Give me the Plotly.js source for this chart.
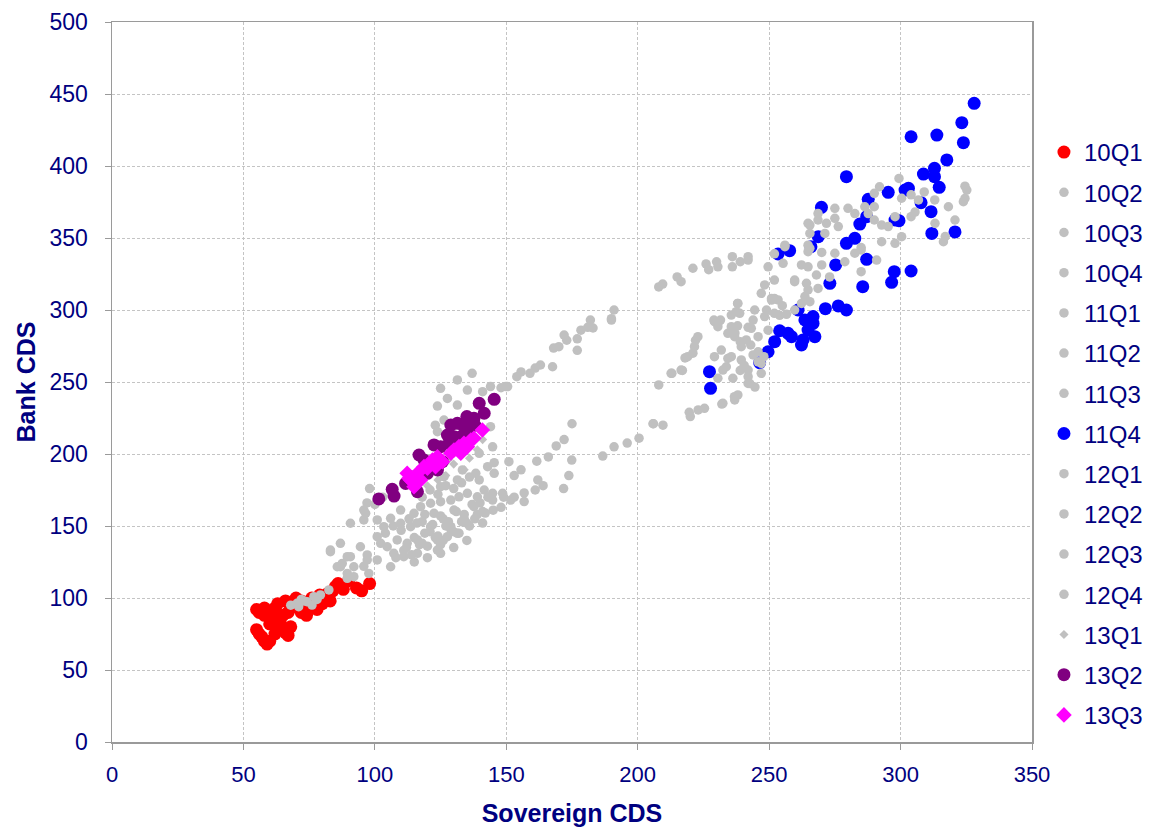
<!DOCTYPE html>
<html>
<head>
<meta charset="utf-8">
<script src="https://cdn.plot.ly/plotly-3.0.1.min.js"></script>
<style>html,body{margin:0;padding:0;background:#fff;}#chart{width:1152px;height:833px;}</style>
</head>
<body>
<div id="chart"></div>
<script>
// ---- data ----
const quarters = ["10Q1","10Q2","10Q3","10Q4","11Q1","11Q2","11Q3","11Q4","12Q1","12Q2","12Q3","12Q4","13Q1","13Q2","13Q3"];

const x10Q1 = [55,56,58,60,62,55,56,57,58,59,60,62,63,64,65,66,67,68,62,65,67,68,70,72,74,75,76,78,80,82,84,85,86,88,83,80,78,72,70,66,93,95,98,90,60,63,58,76,79];
const y10Q1 = [92,90,88,91,93,78,75,73,70,68,70,75,80,83,78,76,74,80,85,88,90,93,95,90,88,92,95,97,100,103,105,108,110,106,98,96,92,98,100,98,107,105,110,112,82,96,93,100,102];

const x10Q2 = [68,70.4,74.2,76.8,79.3,82.5,76.1,72,89.5,92,86.9,83.1,89.5,97.1,100.9,106,95.8,71,73,78];
const y10Q2 = [95,96.3,97.4,100.9,102.1,105.6,95.1,99,113.7,114.8,121.7,132.2,128.7,129.9,126.4,121.7,122,94,98,99];

const x10Q3 = [86.9,83.1,90.7,87.6,85.7,92,97.1,97.7,89.5,94.5,95.8,90.7,96.5,100.9,103.4,100.9,95.8,97,102.2,104.7,107.2,111,108.5,112.3,116.2,123.8];
const y10Q3 = [138,133.3,128.7,124,121.7,121.7,126.4,117.1,117.1,135.6,154.2,151.9,158.8,154.2,149.5,142.6,161.1,166,138,135.6,131,128.7,140.3,138,131,133.3];

const x10Q4 = [109.8,106,109.8,113.6,121.2,128.9,131.4,127.6,123.8,116.2,114.9,122.5,130.1,137.7,144.8,117.4,121.2,125,128.9,132,135.2,139,141.6,144.8,148.6,119,126,134,118,125];
const y10Q4 = [161.1,155.3,151.9,149.5,149.5,149.5,144.9,142.6,140.3,140.3,158.8,158.8,161.1,163.4,168,163.4,165.8,166.9,168,170.3,172.7,170.3,175,172.7,172.7,145,155,155,153,137];

const x11Q1 = [137,131.4,135.2,125,123.8,127.6,131.4,141,144,149.8,123,123.8,144,144.8,139.7,133.3,131.4,126.3,125,138.4,139.7,145.4,126.3,142.9,145.4,148,150.5];
const y11Q1 = [256,251.4,244.4,245.6,233.3,238.6,234,243.3,246.8,246.8,220,215.5,219,205,200.5,188.9,182,184.2,177.3,186.6,182,186.6,223.6,191.2,194,246,246.8];

const x11Q2 = [154,155.6,159,161,163,167.6,168,170,172,173,177,177,178.4,182,183,181,190,191,190,208,209.5,215,216.5,221,226,227,230,230.5,236,236,239,242,242];
const y11Q2 = [253.7,257,256,259.7,261.8,260.6,273.6,274.5,282.6,279,272,280,286,293,287.5,288,293,300,294,316,318,323,319.7,329,332,328,333.5,330,337,330,333.5,334.7,337];

const x11Q3 = [141,142,145,148,149,151.7,153,156.8,156.8,153,155.6,151,161,162,164,171.8,173.8,174.9,161.6,166,169,172,175,186.7,191,196,200.5,206,205.8,209.6,220,223];
const y11Q3 = [152,159,161,163,170,168,170,173,167,185,189,194.7,175,182,178,176,185,195.8,195,198,205.6,210,221,198.6,205,207.6,211,221,221,220,226,230.6];

const x11Q4 = [328,323.3,323.9,304,313.8,317.6,312.9,312.9,308.7,314.7,279.4,295.3,287.7,303,301.7,269.9,307.8,311.6,311.9,320.7,297.9,299.4,287.1,284.5,279.4,282.6,268.7,265.9,257.8,253.4,275.3,287.1,297.6,304,296.6,285.6,273.1,271.4,276.3,279.4,266.7,266.7,263.6,261,264.8,262.3,258.5,257.2,254,252.1,249.6,246.4,227.3,227.7,262.9,267.4];
const y11Q4 = [443.5,430.1,416.2,420.3,421.5,404.2,398.4,392.6,394.4,385.2,392.6,381.7,376.9,384.5,383.3,371.3,374.5,368.3,353.2,354.2,362.5,362,364.8,359.7,346.3,349.8,350.9,344,341.2,338.9,331.3,335.2,326.6,327.1,319.2,316.2,318.5,300.9,302.8,300,295.4,290.7,293.1,300,286.1,275.7,281.5,283.8,285.6,278,271,263.4,257.2,245.6,279.2,281.5];

const x12Q1 = [299.4,292,290,300.4,304,306.8,309,313,305.5,304,297.9,295.3,292.8,290,287.7,290,286.4,282.6,280,275,276.3,271.8,271.2,265.5,265.5,264.8,264.8,270,275,278.8,282.6,285,285,290.9,292.8,297.9,300.4,285,313.1,317,316.3,318.2,320.7,323.9,324.5,325.2,324.5];
const y12Q1 = [391.4,385.6,381,377.6,380,376.4,382,376.4,368,364.8,364.8,357.9,359,362.5,367,371.7,371.7,367,370.6,363.7,357.9,360.2,353.2,359,353.2,345,340.5,340,339.4,333.5,339.4,341.7,326.6,334.7,347.4,346.3,350.9,343.4,360.2,351,347.4,371.7,362.5,375.2,377.5,383.3,386];

const x12Q2 = [259.7,264.2,264.8,268,270,273,268.6,264.8,263.6,265.5,262.3,259.7,253.4,250.9,252,248.3,243.2,241.3,239.4,236.9,234.3,230.5,229.2,235.6,238.8,238.1,243.9,244.5,247,248.3,252,249.6,262.3,265.5,256,264.8,268.6,268.6,275];
const y12Q2 = [320.8,318.5,330,324.3,331.3,323,315,313.9,309.3,305.8,304.6,300,307,308,297.7,295.4,287.3,279.2,274.5,281.5,283.8,288.4,291.9,296.5,297.7,304.6,293,300,311.6,317.4,320.8,330,331.3,342.8,344,360.2,362.5,367,370.6];

const x12Q3 = [208,213,217,218,221,222,219.6,232,236.8,230.5,233.7,235.6,239,240.5,242,242.6,244.6,247,245.8,243,245.8,248,239,237,235.6,238,242,230.5,229,231.5,237.5,238,249.6,249,250.9,252,255,256.6,254,259.7,252,256,255.3,222.9,221.6,229.2,231.8,234.3,232.4,236.2,242,239.4,243.9,245.8,247,242,238.1,236.9,232.4,225.4,216.5,212.7,219];
const y12Q3 = [248,256,258,266.7,270,279,229,234.7,239.8,252.6,260.6,267.6,258,261.5,253.7,249,246.5,256,264,275.7,281.5,267.6,278,284,288.4,289,288,290.7,293,293,298.8,304.6,286,300,306.9,308,303,297,296.3,319.7,339,345,332.4,281.5,274.5,267.6,272.2,266.4,258.3,252.6,258.3,265.3,268.8,271,263,249,241,237.5,235.2,231.7,258.3,256,267.6];

const x12Q4 = [104,107,110,113,116,119,122,125,128,131,134,137,140,143,112,115,118,121,124,127,130,133,136,139,108,111,114,117,120,123,126,129,132,135,138,141,118,121,124,127,130,133,136,115,120,125,130,135,100,103,98];
const y12Q4 = [145,150,147,155,152,158,151,157,153,160,158,165,166,170,135,142,138,146,143,150,146,153,150,158,128,133,130,137,136,142,140,147,145,152,155,160,170,175,172,178,176,180,184,125,128,131,135,140,165,170,176];

const x13Q1 = [134,130,127,136,139,132,124,141,120,128];
const y13Q1 = [189,193,185,197,203,200,182,210,178,196];

const x13Q2 = [101.5,106.6,107.3,111.7,116.2,116.8,118.7,120.6,122.5,125,127.6,128.9,131.4,130.1,133.9,135.8,137.7,139.7,141.6,145.4,113.6,120,123.8,125.7,132.7,135.2,128.2,135,138];
const y13Q2 = [168.8,175.5,170.8,179.6,173.8,199.3,195.8,191.2,206.3,205.1,213.2,220.1,221.3,212,219,221.3,224.8,235.2,228.3,238,184.2,186.6,188.9,194.7,212,214.4,207.4,226,220];

const x13Q3 = [112.3,113.6,114.9,113,116.2,118.7,121.9,123.8,125.7,123.1,130.1,132,133.9,136.5,137.7,135.2,132.7,140.9,128.9,117.4,120];
const y13Q3 = [186.6,181.9,177.3,183.1,186.6,191.2,195.8,198.1,194.7,191.2,202.8,205.1,207.4,209.7,210.9,205.1,200.5,216.7,200.5,181.9,190.1];

const xs = [x10Q1,x10Q2,x10Q3,x10Q4,x11Q1,x11Q2,x11Q3,x11Q4,x12Q1,x12Q2,x12Q3,x12Q4,x13Q1,x13Q2,x13Q3];
const ys = [y10Q1,y10Q2,y10Q3,y10Q4,y11Q1,y11Q2,y11Q3,y11Q4,y12Q1,y12Q2,y12Q3,y12Q4,y13Q1,y13Q2,y13Q3];

// ---- styles ----
const GREY = '#c0c0c0';
const style = {
  "10Q1": {color:'#ff0000', size:13, symbol:'circle'},
  "11Q4": {color:'#0000ff', size:13, symbol:'circle'},
  "13Q1": {color:GREY, size:7, symbol:'diamond'},
  "13Q2": {color:'#800080', size:13, symbol:'circle'},
  "13Q3": {color:'#ff00ff', size:12, symbol:'diamond'}
};

const traces = quarters.map((q, i) => {
  const s = style[q] || {color:GREY, size:9.5, symbol:'circle'};
  return {
    type:'scatter', mode:'markers', name:q, legendgroup:q,
    x: xs[i], y: ys[i],
    marker:{color:s.color, size:s.size, symbol:s.symbol, line:{width:0}},
    hoverinfo:'x+y+name'
  };
});

const NAVY = '#000080';
const FONT = 'Liberation Sans, Arial, sans-serif';
const axisCommon = {
  showline:true, linecolor:'#9a9a9a', linewidth:1.5, mirror:true,
  ticks:'outside', ticklen:6, tickcolor:'#9a9a9a', tickwidth:1,
  showgrid:true, gridcolor:'#c4c4c4', griddash:'3px,2px', gridwidth:1,
  zeroline:false
};

const layout = {
  width:1152, height:833,
  margin:{l:112, r:120, t:22, b:91, autoexpand:false},
  paper_bgcolor:'#ffffff', plot_bgcolor:'#ffffff',
  showlegend:true,
  xaxis: Object.assign({}, axisCommon, {
    range:[0,350], dtick:50, tick0:0,
    tickfont:{family:FONT, size:22, color:NAVY}, ticklabelstandoff:6,
    title:{text:'<b>Sovereign CDS</b>', font:{family:FONT, size:25, color:NAVY}, standoff:18}
  }),
  yaxis: Object.assign({}, axisCommon, {
    range:[0,500], dtick:50, tick0:0,
    tickfont:{family:FONT, size:23, color:NAVY}, ticklabelstandoff:12,
    title:{text:'<b>Bank CDS</b>', font:{family:FONT, size:25, color:NAVY}, standoff:7}
  }),
  legend:{
    x:1.013, xanchor:'left', y:0.85, yanchor:'top',
    font:{family:FONT, size:24, color:NAVY},
    bgcolor:'rgba(0,0,0,0)', borderwidth:0,
    tracegroupgap:6, itemsizing:'trace'
  }
};

Plotly.newPlot('chart', traces, layout, {displayModeBar:false, staticPlot:true});
</script>
</body>
</html>
